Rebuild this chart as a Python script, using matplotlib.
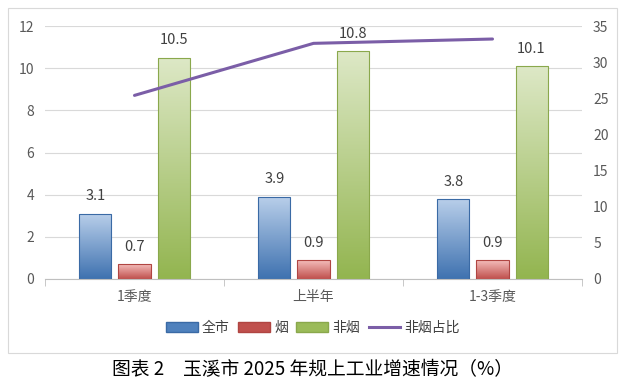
import matplotlib
matplotlib.use("Agg")
import matplotlib.pyplot as plt
import numpy as np
from matplotlib.patches import Rectangle, Patch
from matplotlib.lines import Line2D
from matplotlib.colors import LinearSegmentedColormap

plt.rcParams['font.family'] = ['Noto Sans CJK SC', 'DejaVu Sans']

categories = ['1季度', '上半年', '1-3季度']
quanshi = [3.1, 3.9, 3.8]
yan = [0.7, 0.9, 0.9]
feiyan = [10.5, 10.8, 10.1]
feiyan_share = [25.4, 32.6, 33.2]
series_names = ['全市', '烟', '非烟', '非烟占比']
title = '图表 2　玉溪市 2025 年规上工业增速情况（%）'

W, H = 626, 389
fig = plt.figure(figsize=(W / 100, H / 100), dpi=100)

# outer chart border
fig.patches.append(Rectangle((8 / W, 1 - 353 / H), (617 - 8) / W, (353 - 8) / H,
                             transform=fig.transFigure, fill=False,
                             edgecolor='#d9d9d9', linewidth=0.8))

ax = fig.add_axes([45 / W, 1 - 279 / H, (582 - 45) / W, (279 - 26) / H])
ax2 = ax.twinx()

x = np.arange(len(categories))
bw = 0.179
off = 0.218

grads = [
    ('#b9cfea', '#3f72b0', '#4f81bd', '#3a6aa5'),
    ('#f4bdbb', '#c0504d', '#c0504d', '#b04542'),
    ('#dde8c6', '#93b550', '#9bbb59', '#8aa84c'),
]
series = [quanshi, yan, feiyan]

for i, (vals, (ctop, cbot, cmid, cedge)) in enumerate(zip(series, grads)):
    cmap = LinearSegmentedColormap.from_list('g%d' % i, [cbot, ctop])
    bars = ax.bar(x + (i - 1) * off, vals, width=bw, color='none',
                  edgecolor=cedge, linewidth=0.8, zorder=3)
    grad = np.linspace(0, 1, 100).reshape(-1, 1)
    for b, v in zip(bars, vals):
        x0 = b.get_x()
        im = ax.imshow(grad, cmap=cmap, origin='lower', aspect='auto',
                       extent=[x0, x0 + bw, 0, v], zorder=2.5)
        im.set_clip_path(b)
        ax.annotate(f'{v:g}', (x0 + bw / 2, v), xytext=(0, 12.5),
                    textcoords='offset points', ha='center', va='center',
                    fontsize=10.5, color='#404040')
ax.set_xlim(-0.5, 2.5)
ax.set_ylim(0, 12)
ax.set_aspect('auto')

ax.set_yticks(np.arange(0, 13, 2))
ax.grid(axis='y', color='#d9d9d9', linewidth=0.8, zorder=0)
ax.set_axisbelow(True)
ax.set_xticks(x)
ax.set_xticklabels(categories)
ax.set_xticks([-0.5, 0.5, 1.5, 2.5], minor=True)
ax.tick_params(axis='x', which='major', length=0, pad=8, labelsize=10, labelcolor='#595959')
ax.tick_params(axis='x', which='minor', length=5, color='#bfbfbf', direction='out')
ax.tick_params(axis='y', length=0, pad=8, labelsize=10, labelcolor='#595959')
for s in ['top', 'right', 'left']:
    ax.spines[s].set_visible(False)
ax.spines['bottom'].set_color('#bfbfbf')

ax2.set_ylim(0, 35)
ax2.set_yticks(np.arange(0, 36, 5))
ax2.plot(x, feiyan_share, color='#7b5ea7', linewidth=2.2, zorder=5,
         solid_capstyle='round')
ax2.tick_params(axis='y', length=0, pad=8, labelsize=10, labelcolor='#595959')
for s in ['top', 'right', 'left', 'bottom']:
    ax2.spines[s].set_visible(False)

handles = [Patch(facecolor=grads[0][2], edgecolor=grads[0][3]),
           Patch(facecolor=grads[1][2], edgecolor=grads[1][3]),
           Patch(facecolor=grads[2][2], edgecolor=grads[2][3]),
           Line2D([], [], color='#7b5ea7', linewidth=2.2)]
fig.legend(handles, series_names, loc='center', bbox_to_anchor=(0.5, 1 - 328 / H),
           ncol=4, frameon=False, fontsize=10, handlelength=2.3, handleheight=0.65,
           handletextpad=0.3, columnspacing=0.6, labelcolor='#404040')

fig.text(0.5, 1 - 370 / H, title, ha='center', va='center', fontsize=13.5,
         fontweight='medium', color='#000000')

fig.savefig('out.png', dpi=100)
